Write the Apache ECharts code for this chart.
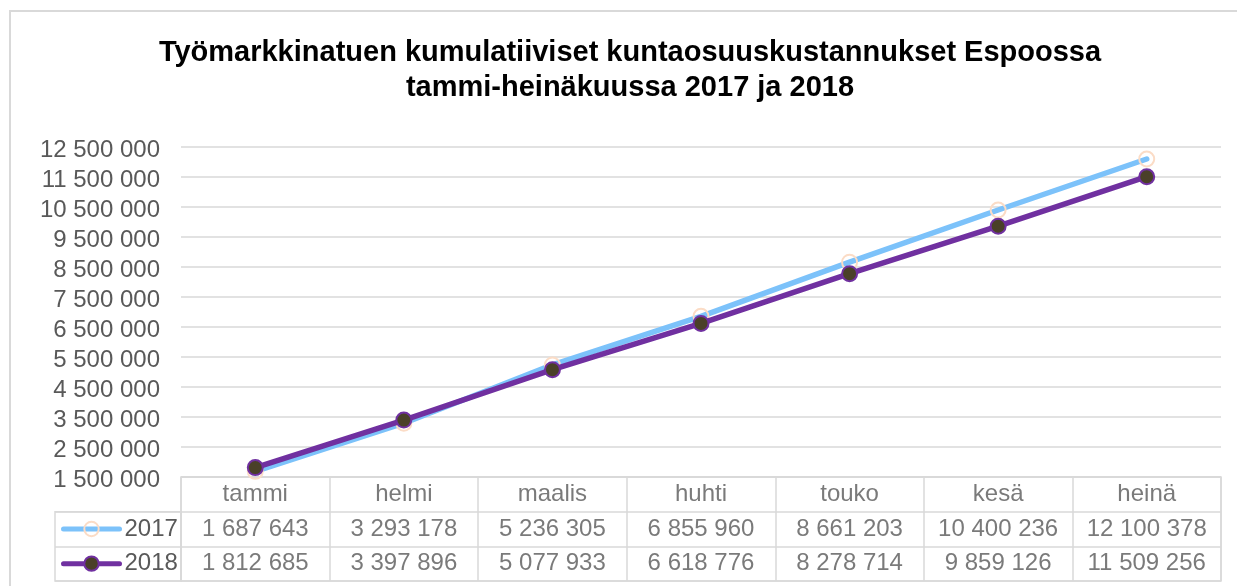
<!DOCTYPE html>
<html>
<head>
<meta charset="utf-8">
<script src="https://cdn.jsdelivr.net/npm/echarts@6/dist/echarts.min.js"></script>
<style>
html,body{margin:0;padding:0;background:#fff;}
#chart{width:1237px;height:586px;}
</style>
</head>
<body>
<div id="chart"></div>
<script>
const titleText = 'Työmarkkinatuen kumulatiiviset kuntaosuuskustannukset Espoossa\ntammi-heinäkuussa 2017 ja 2018';
const categories = ['tammi', 'helmi', 'maalis', 'huhti', 'touko', 'kesä', 'heinä'];
const seriesNames = ['2017', '2018'];
const s2017 = [1687643, 3293178, 5236305, 6855960, 8661203, 10400236, 12100378];
const s2018 = [1812685, 3397896, 5077933, 6618776, 8278714, 9859126, 11509256];
const yTicks = [1500000, 2500000, 3500000, 4500000, 5500000, 6500000, 7500000, 8500000, 9500000, 10500000, 11500000, 12500000];
const tableRows = ['head', '2017', '2018'];

const FONT = "'Liberation Sans', Arial, sans-serif";
const TXT = '#595959';
const GRID_C = '#d9d9d9';
const fmt = v => String(v).replace(/\B(?=(\d{3})+(?!\d))/g, ' ');

const tableText = [];
categories.forEach((c, i) => {
  tableText.push([c, tableRows[0], c]);
  tableText.push([c, tableRows[1], fmt(s2017[i])]);
  tableText.push([c, tableRows[2], fmt(s2018[i])]);
});

const chart = echarts.init(document.getElementById('chart'), null, {renderer: 'canvas'});

const plotLeft = 181, plotRight = 16, plotTop = 147, tableTop = 477, tableH = 104;
const rowH = tableH / 3;

const legendCommon = {
  left: 61, padding: 0, itemWidth: 56, itemHeight: 18,
  textStyle: {fontFamily: FONT, fontSize: 24, color: TXT}, selectedMode: false,
  lineStyle: {width: 5, cap: 'round'}
};

const option = {
  backgroundColor: '#fff',
  animation: false,
  textStyle: {fontFamily: FONT},
  title: {
    text: titleText,
    left: 625,
    top: 30,
    textAlign: 'center',
    textStyle: {fontFamily: FONT, fontSize: 29, fontWeight: 'bold', color: '#000', lineHeight: 35}
  },
  graphic: [{
    type: 'rect',
    shape: {x: 10, y: 11, width: 1400, height: 800},
    style: {fill: 'none', stroke: GRID_C, lineWidth: 2},
    silent: true,
    z: -1
  }],
  legend: [
    Object.assign({data: [seriesNames[0]], top: tableTop + rowH * 1.5 - 12}, legendCommon),
    Object.assign({data: [seriesNames[1]], top: tableTop + rowH * 2.5 - 12}, legendCommon)
  ],
  grid: [
    {left: plotLeft, right: plotRight, top: plotTop, bottom: 586 - tableTop, containLabel: false},
    {left: plotLeft, right: plotRight, top: tableTop, height: tableH, show: true, borderColor: GRID_C, borderWidth: 1.5, backgroundColor: 'transparent'},
    {left: 55, width: plotLeft - 55, top: tableTop + rowH, height: rowH * 2, show: true, borderColor: GRID_C, borderWidth: 1.5, backgroundColor: 'transparent'}
  ],
  xAxis: [
    {gridIndex: 0, type: 'category', data: categories, boundaryGap: true,
     axisLine: {show: false}, axisTick: {show: false}, axisLabel: {show: false}, splitLine: {show: false}},
    {gridIndex: 1, type: 'category', data: categories, boundaryGap: true,
     axisLine: {show: false}, axisTick: {show: false}, axisLabel: {show: false},
     splitLine: {show: true, lineStyle: {color: GRID_C, width: 1.5}}},
    {gridIndex: 2, type: 'category', data: ['x'], boundaryGap: true,
     axisLine: {show: false}, axisTick: {show: false}, axisLabel: {show: false}, splitLine: {show: false}}
  ],
  yAxis: [
    {gridIndex: 0, type: 'value', min: yTicks[0], max: yTicks[yTicks.length - 1],
     axisLine: {show: false},
     axisTick: {show: false, customValues: yTicks},
     axisLabel: {customValues: yTicks, formatter: v => fmt(v), fontFamily: FONT, fontSize: 24, color: TXT, margin: 21,
                 verticalAlign: 'top', lineHeight: 7},
     splitLine: {show: true, lineStyle: {color: GRID_C, width: 1.5}}},
    {gridIndex: 1, type: 'category', data: tableRows, inverse: true, boundaryGap: true,
     axisLine: {show: false}, axisTick: {show: false}, axisLabel: {show: false},
     splitLine: {show: true, lineStyle: {color: GRID_C, width: 1.5}}},
    {gridIndex: 2, type: 'category', data: tableRows.slice(1), inverse: true, boundaryGap: true,
     axisLine: {show: false}, axisTick: {show: false}, axisLabel: {show: false},
     splitLine: {show: true, lineStyle: {color: GRID_C, width: 1.5}}}
  ],
  series: [
    {
      name: seriesNames[0], type: 'line', xAxisIndex: 0, yAxisIndex: 0, data: s2017,
      symbol: 'circle', symbolSize: 15, showAllSymbol: true,
      lineStyle: {color: '#7cc2fa', width: 5.5, cap: 'round'},
      itemStyle: {color: 'rgba(255,255,255,0)', borderColor: '#fbdcc6', borderWidth: 2},
      z: 2
    },
    {
      name: seriesNames[1], type: 'line', xAxisIndex: 0, yAxisIndex: 0, data: s2018,
      symbol: 'circle', symbolSize: 15, showAllSymbol: true,
      lineStyle: {color: '#7030a0', width: 5.5, cap: 'round'},
      itemStyle: {color: '#4a4028', borderColor: '#7030a0', borderWidth: 2},
      z: 3
    },
    {
      name: 'table', type: 'scatter', xAxisIndex: 1, yAxisIndex: 1, data: tableText,
      encode: {x: 0, y: 1}, symbolSize: 1, itemStyle: {color: 'rgba(0,0,0,0)'}, silent: true,
      label: {show: true, position: 'inside', formatter: p => p.value[2], fontFamily: FONT, fontSize: 24, color: TXT}
    }
  ]
};
chart.setOption(option);
</script>
</body>
</html>
